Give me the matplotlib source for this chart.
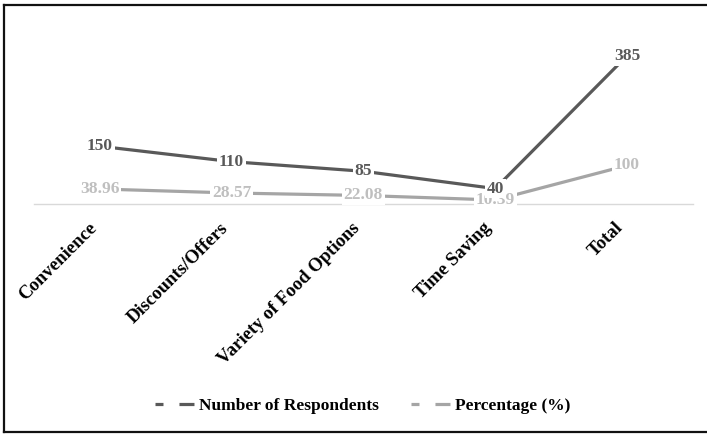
import matplotlib
matplotlib.use("Agg")
import matplotlib.pyplot as plt
from matplotlib.lines import Line2D

categories = ["Convenience", "Discounts/Offers", "Variety of Food Options", "Time Saving", "Total"]
respondents = [150, 110, 85, 40, 385]
percentage = [38.96, 28.57, 22.08, 10.39, 100]
percentage_labels = ["38.96", "28.57", "22.08", "10.39", "100"]

DARK = "#595959"
LIGHT = "#a5a5a5"
LIGHT_TXT = "#bfbfbf"
SERIF = ["Liberation Serif", "DejaVu Serif"]

plt.rcParams["font.family"] = SERIF
plt.rcParams["font.weight"] = "bold"

fig = plt.figure(figsize=(7.07, 4.34), dpi=100)
ax = fig.add_axes([0.048, 0.530, 0.932, 0.399])

x = list(range(len(categories)))
ax.plot(x, respondents, color=DARK, lw=2.3, zorder=3, solid_capstyle="butt")
ax.plot(x, percentage, color=LIGHT, lw=2.3, zorder=2, solid_capstyle="butt")

box = dict(facecolor="white", edgecolor="none", pad=1.2)
for xi, v, lab in zip(x, percentage, percentage_labels):
    ax.text(xi, v, lab, ha="center", va="center", fontsize=12.5, fontweight="bold",
            color=LIGHT_TXT, bbox=box, zorder=4)
for xi, v in zip(x, respondents):
    ax.text(xi, v, str(v), ha="center", va="center", fontsize=12.5, fontweight="bold",
            color=DARK, bbox=box, zorder=5)

ax.set_xlim(-0.5, len(categories) - 0.5)
ax.set_ylim(0, 450)
ax.set_xticks(x)
ax.set_xticklabels(categories, rotation=45, ha="right", fontsize=13.5, fontweight="bold")
ax.tick_params(axis="x", length=0, pad=11)
ax.set_yticks([])
for side in ["left", "right", "top"]:
    ax.spines[side].set_visible(False)
ax.spines["bottom"].set_color("#d9d9d9")
ax.spines["bottom"].set_linewidth(1.0)
ax.spines["bottom"].set_zorder(1)

handles = [
    Line2D([], [], color=DARK, lw=2.3, dashes=(2.5, 5.0, 4.7, 10)),
    Line2D([], [], color=LIGHT, lw=2.3, dashes=(2.5, 5.0, 4.7, 10)),
]
fig.legend(handles, ["Number of Respondents", "Percentage (%)"], loc="center",
           bbox_to_anchor=(0.513, 0.064), ncol=2, frameon=False,
           prop={"family": SERIF, "weight": "bold", "size": 12.5},
           handlelength=2.3, handletextpad=0.25, columnspacing=1.8)

# chart frame
W, H = 707, 434
frame = dict(color="#111111", lw=1.6, transform=fig.transFigure, clip_on=False)
fig.add_artist(Line2D([4 / W, 4 / W], [1 - 432 / H, 1 - 5 / H], **frame))
fig.add_artist(Line2D([4 / W, 1.0], [1 - 5 / H, 1 - 5 / H], **frame))
fig.add_artist(Line2D([4 / W, 1.0], [1 - 432 / H, 1 - 432 / H], **frame))

fig.savefig("out.png", dpi=100)
